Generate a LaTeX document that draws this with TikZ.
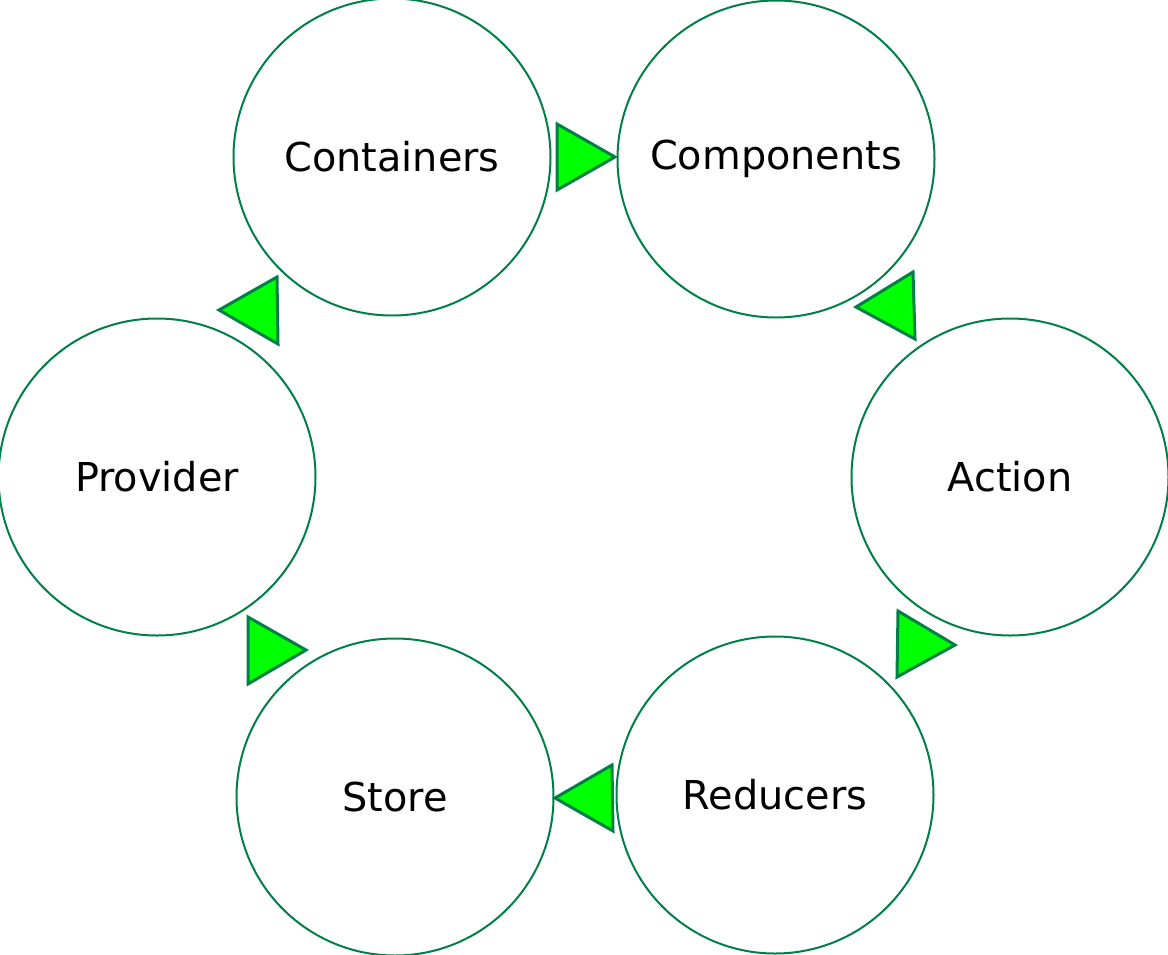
\documentclass[tikz,border=0pt]{standalone}
\usepackage{fontspec}
\setmainfont{DejaVu Sans}
\definecolor{ring}{RGB}{0,128,70}
\definecolor{tfill}{RGB}{0,255,0}
\tikzset{
  stage/.style={circle, draw=ring, line width=2pt, fill=white, minimum size=317pt, inner sep=0pt,
    font=\fontsize{39.8}{46}\selectfont, text=black},
  tri/.style={draw=ring, line width=3pt, fill=tfill, line join=miter}
}
\begin{document}
\begin{tikzpicture}[x=1pt,y=-1pt]
\useasboundingbox (0,0) rectangle (1168,954);
\node[stage] (containers) at (392,157) {Containers};
\node[stage] (components) at (776,159) {Components};
\node[stage] (action) at (1010,477) {Action};
\node[stage] (reducers) at (775,795) {Reducers};
\node[stage] (store) at (395,797) {Store};
\node[stage] (provider) at (157,477) {Provider};
% arrowheads between stages
\draw[tri] (557,124) -- (615,157) -- (557,190) -- cycle;
\draw[tri] (913,272) -- (915,339) -- (856,307) -- cycle;
\draw[tri] (898,611) -- (955,645) -- (897,677) -- cycle;
\draw[tri] (612,765) -- (613,831) -- (555,798) -- cycle;
\draw[tri] (248,617) -- (306,650) -- (248,684) -- cycle;
\draw[tri] (277,277) -- (278,344) -- (219,310) -- cycle;
\end{tikzpicture}
\end{document}
